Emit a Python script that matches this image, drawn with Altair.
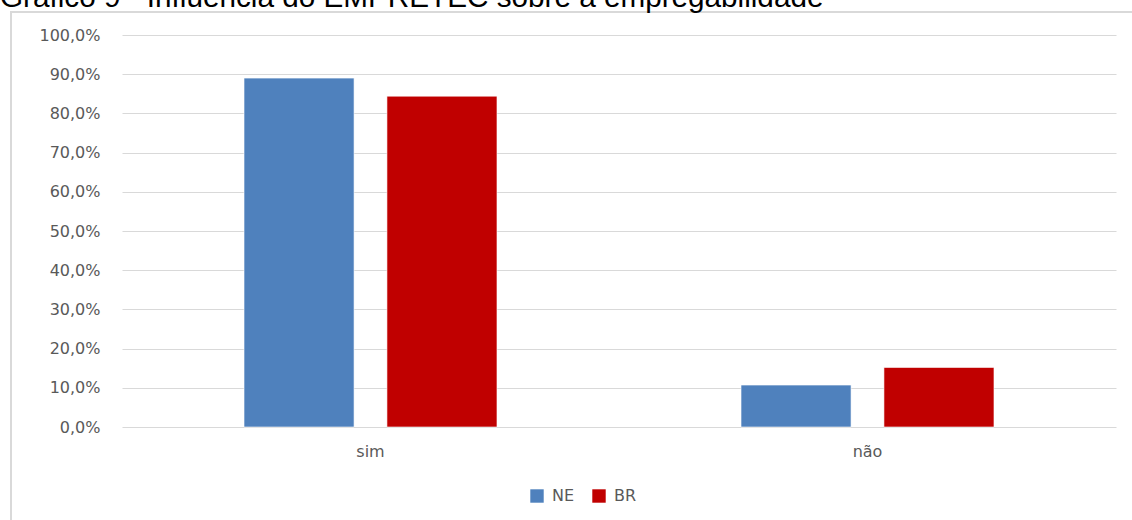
import altair as alt
import pandas as pd

# Share of respondents by answer, Northeast (NE) vs. Brazil (BR)
categories = ["sim", "não"]
series = ["NE", "BR"]
ne_values = [0.890, 0.107]
br_values = [0.844, 0.152]
colors = ["#4F81BD", "#C00000"]
title_text = "Gráfico 9 - Influência do EMPRETEC sobre a empregabilidade"

rows = []
for cat, ne, br in zip(categories, ne_values, br_values):
    rows.append({"resposta": cat, "regiao": "NE", "valor": ne})
    rows.append({"resposta": cat, "regiao": "BR", "valor": br})
df = pd.DataFrame(rows)

W, H = 994, 392
label_font = "DejaVu Sans"
label_color = "#595959"

bars = alt.Chart(df).mark_bar(stroke="white", strokeOpacity=0.6, strokeWidth=1).encode(
    x=alt.X(
        "resposta:N",
        sort=categories,
        title=None,
        scale=alt.Scale(paddingInner=0.491, paddingOuter=0.2455),
        axis=alt.Axis(
            labelAngle=0,
            labelFont=label_font,
            labelFontSize=16,
            labelColor=label_color,
            labelPadding=16,
            domain=False,
            ticks=False,
            grid=False,
        ),
    ),
    xOffset=alt.XOffset("regiao:N", sort=series, scale=alt.Scale(paddingInner=0.23, paddingOuter=0)),
    y=alt.Y(
        "valor:Q",
        title=None,
        scale=alt.Scale(domain=[0, 1]),
        axis=alt.Axis(
            values=[i / 10 for i in range(11)],
            labelExpr="replace(format(datum.value, '.1%'), '.', ',')",
            labelFont=label_font,
            labelFontSize=16,
            labelColor=label_color,
            labelPadding=22,
            domain=False,
            ticks=False,
            grid=True,
            gridColor="#D9D9D9",
            gridWidth=1,
        ),
    ),
    color=alt.Color(
        "regiao:N",
        sort=series,
        scale=alt.Scale(domain=series, range=colors),
        legend=alt.Legend(
            title=None,
            orient="none",
            direction="horizontal",
            legendX=407,
            legendY=453,
            symbolType="square",
            symbolSize=180,
            symbolStrokeWidth=0,
            labelFont=label_font,
            labelFontSize=16,
            labelColor=label_color,
            columnPadding=16,
            labelOffset=7,
        ),
    ),
)

# Outer frame around the chart area (its right side runs past the page edge)
frame = alt.Chart(pd.DataFrame({"k": [0]})).mark_rect(
    fill="transparent", stroke="#D9D9D9", strokeWidth=2, clip=False
).encode(
    x=alt.value(-111), x2=alt.value(1030), y=alt.value(-23), y2=alt.value(520)
)

# Caption above the frame
caption = alt.Chart(pd.DataFrame({"t": [title_text]})).mark_text(
    font="Liberation Sans", fontSize=29.7, color="black", align="left", baseline="alphabetic"
).encode(text="t:N", x=alt.value(-122), y=alt.value(-28))

chart = alt.layer(frame, bars, caption).properties(
    width=W,
    height=H,
    autosize=alt.AutoSizeParams(type="none"),
    padding={"left": 122, "top": 35, "right": 16, "bottom": 93},
    view=alt.ViewBackground(stroke=None, strokeWidth=0),
).configure_view(stroke="transparent", strokeWidth=0).configure_axisX(
    grid=False
).configure(background="white")

chart.save("out.html", embed_options={"renderer": "svg", "actions": False})
